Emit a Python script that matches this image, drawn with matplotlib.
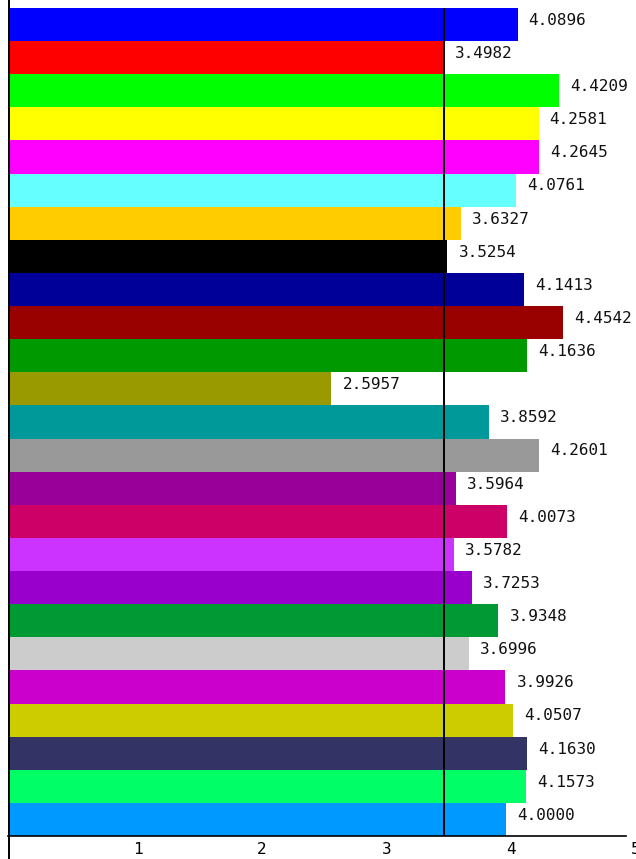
import matplotlib
matplotlib.use("Agg")
import matplotlib.pyplot as plt
from matplotlib.lines import Line2D

values = [4.0896, 3.4982, 4.4209, 4.2581, 4.2645, 4.0761, 3.6327, 3.5254,
          4.1413, 4.4542, 4.1636, 2.5957, 3.8592, 4.2601, 3.5964, 4.0073,
          3.5782, 3.7253, 3.9348, 3.6996, 3.9926, 4.0507, 4.1630, 4.1573,
          4.0000]
colors = ["#0000FF", "#FF0000", "#00FF00", "#FFFF00", "#FF00FF", "#66FFFF",
          "#FFCC00", "#000000", "#000099", "#990000", "#009900", "#999900",
          "#009999", "#999999", "#990099", "#CC0066", "#CC33FF", "#9900CC",
          "#009933", "#CCCCCC", "#CC00CC", "#CCCC00", "#333366", "#00FF66",
          "#0099FF"]
ref_line = 3.4982
xticks = [1, 2, 3, 4, 5]
xticklabels = ["1", "2", "3", "4", "5"]

W, H = 636, 859
fig = plt.figure(figsize=(W / 100, H / 100), dpi=100)
ax = fig.add_axes([8 / W, (H - 836) / H, (631 - 8) / W, (836 - 8) / H])

ypos = list(range(len(values)))
ax.barh(ypos, values, height=1.0, color=colors, edgecolor="none")
ax.set_xlim(0, 5)
ax.set_ylim(len(values) - 0.5, -0.5)
ax.axvline(ref_line, color="black", lw=1.4, zorder=5)

font = "DejaVu Sans Mono"
for y, v in zip(ypos, values):
    ax.annotate(f"{v:.4f}", xy=(v, y), xytext=(8, 3), textcoords="offset points",
                ha="left", va="center", fontsize=11.5, family=font, color="#111111")

ax.set_xticks(xticks)
ax.set_xticklabels(xticklabels, ha="left", family=font, fontsize=11.5)
ax.tick_params(axis="x", length=0, pad=4)
ax.set_yticks([])
for s in ["top", "right", "left"]:
    ax.spines[s].set_visible(False)
ax.spines["bottom"].set_linewidth(1.2)
ax.spines["bottom"].set_bounds(0, 4.96)

fig.add_artist(Line2D([8.5 / W, 8.5 / W], [0, 1], transform=fig.transFigure,
                      color="black", lw=1.4))

fig.savefig("out.png", dpi=100)
